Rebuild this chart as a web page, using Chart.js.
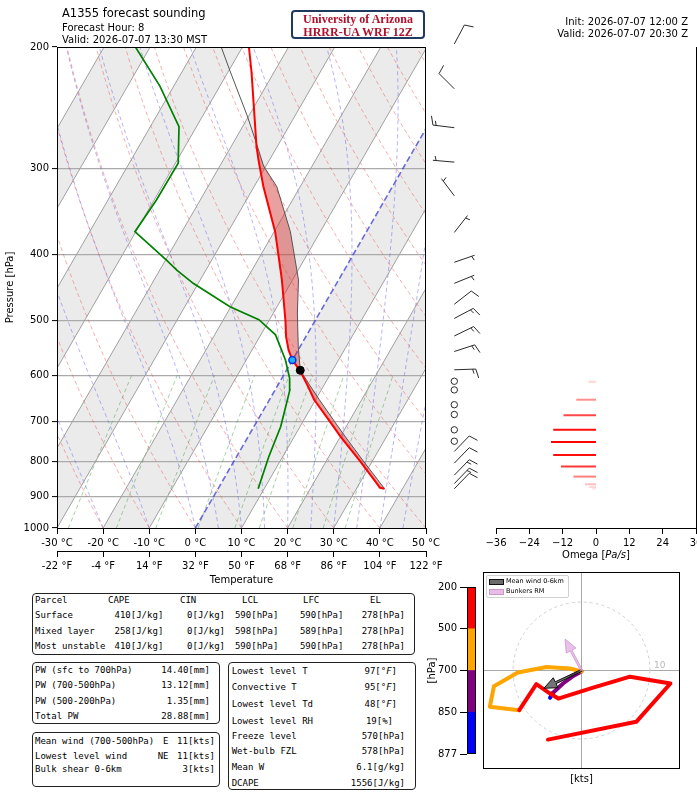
<!DOCTYPE html>
<html>
<head>
<meta charset="utf-8">
<title>A1355 forecast sounding</title>
<script src="https://cdn.jsdelivr.net/npm/chart.js@4.4.1/dist/chart.umd.min.js"></script>
<style>
  body { margin: 0; background: #fff; }
  #page { position: relative; width: 697px; height: 792px; overflow: hidden; background: #fff;
          font-family: 'DejaVu Sans', sans-serif; color: #000; }
  #page canvas { position: absolute; }
  .t { position: absolute; white-space: pre; line-height: 1; }
  .m { font-family: 'DejaVu Sans Mono', monospace; }
  .box { position: absolute; border: 1.4px solid #222; border-radius: 4px; box-sizing: border-box; }
</style>
</head>
<body>
<div id="page">
  <canvas id="skewt" width="500" height="589" style="left:0;top:0"></canvas>
  <canvas id="omega" width="240" height="576" style="left:480px;top:0"></canvas>
  <canvas id="hodo" width="267" height="232" style="left:430px;top:560px"></canvas>
  <canvas id="cbar" width="54" height="190" style="left:426px;top:575px"></canvas>
  <div style="position:absolute;left:291px;top:10px;width:134px;height:29px;box-sizing:border-box;border:2px solid #1f3a5f;border-radius:4px;
              font-family:'Liberation Serif',serif;font-weight:bold;font-size:12px;line-height:12.5px;color:#b0102a;text-align:center;padding-top:1px">University of Arizona<br>HRRR-UA WRF 12Z</div>
  <div style="position:absolute;left:486px;top:575px;width:81px;height:21px;border:1px solid #d0d0d0;border-radius:2px;background:rgba(255,255,255,0.85)"></div>
  <div style="position:absolute;left:489px;top:579px;width:13px;height:4px;background:rgba(70,70,70,0.8);border:1px solid #111"></div>
  <div style="position:absolute;left:489px;top:589px;width:13px;height:4px;background:rgba(221,160,221,0.7);border:1px solid rgba(200,140,200,0.8)"></div>
</div>
<script>
// ---- sounding profile ----
const envP = [877, 874, 850, 800, 737, 700, 651, 620, 590, 570, 551, 527, 500, 436, 400, 371, 319, 293, 279, 244, 218, 200];
const envT = [36.1, 35.0, 32.6, 27.4, 20.1, 15.8, 9.7, 6.4, 2.9, 0.0, -2.1, -4.3, -6.4, -12.3, -16.3, -19.8, -28.0, -32.2, -34.5, -40.1, -44.8, -48.6];
const dewP = [877, 788, 712, 651, 630, 606, 570, 524, 498, 477, 441, 422, 408, 371, 334, 295, 261, 228, 200];
const dewT = [8.7, 7.0, 5.8, 3.9, 3.2, 1.7, -1.5, -6.8, -12.3, -20.2, -31.1, -36.3, -39.8, -50.2, -49.5, -49.4, -53.8, -63.0, -73.2];
const parcelP = [877, 850, 800, 737, 700, 650, 620, 590, 545, 487, 436, 371, 319, 298, 278, 252, 216, 200];
const parcelT = [36.1, 33.4, 28.1, 21.1, 16.8, 10.7, 6.9, 3.0, -0.4, -4.8, -8.7, -16.5, -25.1, -30.5, -34.5, -40.3, -49.9, -54.6];
const lclP = 590, lclT = 3.0;
const frzP = 570, frzT = 0.0;
const elP = 278;

// wind barbs: pressure, direction (deg from), speed (kt)
const windP   = [198, 230, 262, 294, 329, 372, 411, 441, 473, 496, 526, 554, 589, 612, 630, 662, 684, 720, 748, 774, 805, 838, 862, 877];
const windDir = [28, 315, 277, 275, 323, 38, 71, 68, 52, 62, 64, 72, 88, 0, 0, 0, 0, 0, 0, 44, 44, 44, 44, 44];
const windSpd = [10, 10, 15, 5, 5, 5, 5, 5, 10, 15, 15, 15, 15, 0, 0, 0, 0, 0, 0, 10, 10, 15, 15, 10];

// omega (Pa/s)
const omegaP = [572, 613, 651, 686, 720, 750, 783, 814, 842, 864, 872, 877];
const omegaV = [-0.3, -2.7, -7.1, -11.7, -15.4, -16.2, -15.4, -12.6, -8.1, -4.0, -2.5, -1.5];

// hodograph (kt)
const hodoP = [877, 850, 800, 750, 700, 680, 640, 600, 570, 540, 500, 470, 440, 420, 380, 330, 290, 250, 200];
const hodoU = [-4.6, -4.2, -2.7, -1.2, 0.0, -1.7, -5.1, -9.3, -12.8, -13.4, -9.1, -6.6, -4.7, -3.4, 1.7, 7.1, 13.0, 8.0, -4.9];
const hodoV = [-4.0, -3.3, -1.9, -0.8, -0.15, 0.3, 0.5, -0.3, -2.3, -5.3, -5.8, -2.0, -3.3, -4.1, -2.5, -0.9, -1.9, -7.5, -10.1];
const layerBounds = [877, 850, 700, 500, 200];
const layerColors = ['#0000ff', '#800080', '#ffa500', '#ff0000'];
const meanWindU = -5.5, meanWindV = -2.6;
const bunkersU = -2.4, bunkersV = 4.6;

// axis ticks
const pTicks = [200, 300, 400, 500, 600, 700, 800, 900, 1000];
const tTicksC = [-30, -20, -10, 0, 10, 20, 30, 40, 50];
const tTicksF = [-22, -4, 14, 32, 50, 68, 86, 104, 122];
const omegaTicks = [-36, -24, -12, 0, 12, 24, 36];
const cbLevels = [200, 500, 700, 850, 877];

Chart.defaults.font.family = "'DejaVu Sans', sans-serif";
Chart.defaults.font.size = 10;
Chart.defaults.color = '#000';

// skew: x shift in degC per ln(1000/p), gives ~30 deg isotherms for this plot size
const K = 37.41;
const skew = (t, p) => t + K * Math.log(1000 / p);
const prof = (ps, ts) => ps.map((p, i) => ({x: skew(ts[i], p), y: p}));

// background thermodynamic lines
function dTdp(T, p) {
  const Rd = 287.04, Cp = 1005.7, Lv = 2.501e6, eps = 0.622;
  const tc = T - 273.15;
  const es = 6.112 * Math.exp(17.67 * tc / (tc + 243.5));
  const rs = eps * es / (p - es);
  return (Rd * T + Lv * rs) / (Cp + Lv * Lv * rs * eps / (Rd * T * T)) / p;
}
function moist(t0) {
  const out = [];
  let T = t0 + 273.15;
  for (let p = 1000; p >= 200; p -= 10) {
    out.push({x: skew(T - 273.15, p), y: p});
    const k1 = dTdp(T, p);
    const k2 = dTdp(T - 5 * k1, p - 5);
    T -= 10 * k2;
  }
  return out;
}
function dry(t0) {
  const out = [];
  for (let p = 1000; p >= 200; p -= 20) out.push({x: skew((t0 + 273.15) * Math.pow(p / 1000, 0.2857) - 273.15, p), y: p});
  return out;
}
function mixing(w) {
  const out = [];
  for (let p = 1000; p >= 600; p -= 50) {
    const e = w * p / (622 + w);
    const l = Math.log(e / 6.112);
    out.push({x: skew(243.5 * l / (17.67 - l), p), y: p});
  }
  return out;
}

const line = (label, data, color, width, dash) => ({
  label, data, showLine: true, borderColor: color, borderWidth: width,
  borderDash: dash || [], pointRadius: 0, fill: false, tension: 0
});

// datasets: index 0 is drawn on top
const ds = [];
ds.push({label: 'lcl', data: [{x: skew(lclT, lclP), y: lclP}], pointRadius: 4, pointBackgroundColor: '#000', pointBorderColor: '#000'});
ds.push({label: 'frz', data: [{x: skew(frzT, frzP), y: frzP}], pointRadius: 3.5, pointBorderWidth: 1.5, pointBackgroundColor: '#19b4ff', pointBorderColor: '#1030e0'});
ds.push(line('T', prof(envP, envT), '#ff0000', 2));
ds.push(line('Td', prof(dewP, dewT), '#008000', 1.7));
ds.push(line('parcel', prof(parcelP, parcelT), '#555555', 1));
ds.push(line('iso0', [{x: 0, y: 1000}, {x: skew(0, 200), y: 200}], 'rgba(60,60,210,0.75)', 1.6, [6, 3]));
for (let t = -100; t <= 50; t += 10) if (t !== 0) ds.push(line('iso', [{x: t, y: 1000}, {x: skew(t, 200), y: 200}], '#a0a0a0', 1));
for (let t = -30; t <= 150; t += 10) ds.push(line('dry', dry(t), 'rgba(235,90,90,0.55)', 0.9, [4, 3]));
[-30, -20, -10, 0, 5, 10, 15, 20, 25, 30, 35, 40, 45].forEach(t => ds.push(line('moist', moist(t), 'rgba(90,90,235,0.5)', 0.9, [4, 3])));
[0.4, 1, 2, 4, 7, 10, 16, 24, 32].forEach(w => ds.push(line('mix', mixing(w), 'rgba(60,150,60,0.5)', 0.9, [4, 3])));

function barb(ctx, x0, y0, dir, spd) {
  const L = 21.5;
  if (spd < 2.5) { ctx.beginPath(); ctx.arc(x0, y0, 3.2, 0, 2 * Math.PI); ctx.stroke(); return; }
  const r = dir * Math.PI / 180, ux = Math.sin(r), uy = -Math.cos(r);
  const px = -uy, py = ux;
  const tx = x0 + ux * L, ty = y0 + uy * L;
  ctx.beginPath(); ctx.moveTo(x0, y0); ctx.lineTo(tx, ty);
  const n = Math.round(spd / 5), full = Math.floor(n / 2), half = n % 2;
  const sp = 3.2, h = 9, lean = 2.6;
  let d = full === 0 ? sp : 0;
  for (let i = 0; i < full; i++) {
    const bx = tx - ux * d, by = ty - uy * d;
    ctx.moveTo(bx, by); ctx.lineTo(bx + px * h + ux * lean, by + py * h + uy * lean);
    d += sp;
  }
  if (half) {
    const bx = tx - ux * d, by = ty - uy * d;
    ctx.moveTo(bx, by); ctx.lineTo(bx + px * h / 2 + ux * lean / 2, by + py * h / 2 + uy * lean / 2);
  }
  ctx.stroke();
}

const skewDecor = {
  id: 'skewDecor',
  beforeDraw(chart) {
    const {ctx, chartArea: a, scales: {x, y}} = chart;
    ctx.save();
    ctx.beginPath(); ctx.rect(a.left, a.top, a.width, a.height); ctx.clip();
    ctx.fillStyle = '#ebebeb';
    for (let t0 = -100; t0 <= 40; t0 += 20) {
      const c = [[t0, 1000], [t0 + 10, 1000], [t0 + 10, 200], [t0, 200]];
      ctx.beginPath();
      c.forEach(([t, p], i) => {
        const px = x.getPixelForValue(skew(t, p)), py = y.getPixelForValue(p);
        if (i) ctx.lineTo(px, py); else ctx.moveTo(px, py);
      });
      ctx.closePath(); ctx.fill();
    }
    ctx.restore();
  },
  beforeDatasetDraw(chart, args) {
    if (chart.data.datasets[args.index].label !== 'parcel') return;
    const {ctx, chartArea: a, scales: {x, y}} = chart;
    const pts = [];
    parcelP.forEach((p, i) => { if (p >= elP) pts.push([parcelT[i], p]); });
    for (let i = envP.length - 1; i >= 0; i--) if (envP[i] >= elP) pts.push([envT[i], envP[i]]);
    ctx.save();
    ctx.beginPath(); ctx.rect(a.left, a.top, a.width, a.height); ctx.clip();
    ctx.beginPath();
    pts.forEach(([t, p], i) => {
      const px = x.getPixelForValue(skew(t, p)), py = y.getPixelForValue(p);
      if (i) ctx.lineTo(px, py); else ctx.moveTo(px, py);
    });
    ctx.closePath();
    ctx.fillStyle = 'rgba(210,45,45,0.45)';
    ctx.fill();
    ctx.restore();
  },
  afterDraw(chart) {
    const {ctx, chartArea: a, scales: {y}} = chart;
    ctx.save();
    ctx.strokeStyle = '#000'; ctx.lineWidth = 1;
    ctx.strokeRect(a.left + 0.5, a.top + 0.5, a.width - 1, a.height);
    ctx.strokeStyle = '#2a2a2a'; ctx.lineWidth = 1;
    windP.forEach((p, i) => barb(ctx, 454.3, y.getPixelForValue(p), windDir[i], windSpd[i]));
    ctx.restore();
  }
};

new Chart(document.getElementById('skewt'), {
  type: 'scatter',
  data: {datasets: ds},
  options: {
    responsive: false, animation: false, events: [],
    layout: {padding: {top: 47, right: 74, left: 4, bottom: 0}},
    plugins: {legend: {display: false}, tooltip: {enabled: false}},
    scales: {
      x: {
        type: 'linear', position: 'bottom', min: -30, max: 50,
        afterBuildTicks: ax => { ax.ticks = tTicksC.map(v => ({value: v})); },
        ticks: {callback: v => v + ' °C', maxRotation: 0, autoSkip: false, padding: 3},
        grid: {drawOnChartArea: false, tickLength: 6, tickColor: '#000'},
        border: {color: '#000'},
        afterFit: ax => { ax.height = 23; }
      },
      xf: {
        type: 'linear', position: 'bottom', min: -22, max: 122,
        afterBuildTicks: ax => { ax.ticks = tTicksF.map(v => ({value: v})); },
        ticks: {callback: v => v + ' °F', maxRotation: 0, autoSkip: false, padding: 3},
        grid: {drawOnChartArea: false, tickLength: 6, tickColor: '#000'},
        border: {color: '#000'},
        title: {display: true, text: 'Temperature', padding: {top: 0, bottom: 3}},
        afterFit: ax => { ax.height = 38; }
      },
      y: {
        type: 'logarithmic', position: 'left', min: 200, max: 1000, reverse: true,
        afterBuildTicks: ax => { ax.ticks = pTicks.map(v => ({value: v})); },
        ticks: {callback: v => String(v), autoSkip: false, padding: 3},
        grid: {color: c => (c.tick && (c.tick.value === 200 || c.tick.value === 1000)) ? 'rgba(0,0,0,0)' : '#aaaaaa',
               lineWidth: 1.2, tickLength: 5, tickColor: '#000', tickWidth: 1},
        border: {color: '#000'},
        title: {display: true, text: 'Pressure [hPa]', padding: {top: 0, bottom: 2}},
        afterFit: ax => { ax.width = 53; }
      }
    }
  },
  plugins: [skewDecor]
});

// omega panel
const omegaMax = Math.max(...omegaV.map(Math.abs));
new Chart(document.getElementById('omega'), {
  type: 'scatter',
  data: {datasets: omegaP.map((p, i) => ({
    data: [{x: 0, y: p}, {x: omegaV[i], y: p}], showLine: true, pointRadius: 0, borderWidth: 2,
    borderColor: 'rgba(255,0,0,' + Math.min(1, Math.abs(omegaV[i]) / omegaMax).toFixed(2) + ')'
  }))},
  options: {
    responsive: false, animation: false, events: [],
    layout: {padding: {left: 16, right: 24, top: 47, bottom: 0}},
    plugins: {legend: {display: false}, tooltip: {enabled: false}},
    scales: {
      x: {
        type: 'linear', min: -36, max: 36,
        afterBuildTicks: ax => { ax.ticks = omegaTicks.map(v => ({value: v})); },
        ticks: {callback: v => v < 0 ? '\u2212' + (-v) : String(v), maxRotation: 0, autoSkip: false, padding: 3},
        grid: {drawOnChartArea: false, tickLength: 6, tickColor: '#000'},
        border: {color: '#000'},
        afterFit: ax => { ax.height = 48; }
      },
      y: {
        type: 'logarithmic', position: 'right', min: 200, max: 1000, reverse: true,
        afterBuildTicks: ax => { ax.ticks = pTicks.map(v => ({value: v})); },
        ticks: {display: false},
        grid: {drawOnChartArea: false, tickLength: 5, tickColor: '#000'},
        border: {color: '#000'},
        afterFit: ax => { ax.width = 0; }
      }
    }
  }
});

// hodograph
function arrow(ctx, x0, y0, x1, y1, fill, stroke, sw, hw, hl) {
  const dx = x1 - x0, dy = y1 - y0, len = Math.hypot(dx, dy);
  const ux = dx / len, uy = dy / len, nx = -uy, ny = ux;
  const bx = x1 - ux * hl, by = y1 - uy * hl;
  ctx.beginPath();
  ctx.moveTo(x0 + nx * sw / 2, y0 + ny * sw / 2);
  ctx.lineTo(bx + nx * sw / 2, by + ny * sw / 2);
  ctx.lineTo(bx + nx * hw / 2, by + ny * hw / 2);
  ctx.lineTo(x1, y1);
  ctx.lineTo(bx - nx * hw / 2, by - ny * hw / 2);
  ctx.lineTo(bx - nx * sw / 2, by - ny * sw / 2);
  ctx.lineTo(x0 - nx * sw / 2, y0 - ny * sw / 2);
  ctx.closePath();
  ctx.fillStyle = fill; ctx.fill();
  ctx.strokeStyle = stroke; ctx.lineWidth = 1; ctx.stroke();
}
const hodoDecor = {
  id: 'hodoDecor',
  beforeDatasetsDraw(chart) {
    const {ctx, scales: {x, y}} = chart;
    const cx = x.getPixelForValue(0), cy = y.getPixelForValue(0);
    const r = x.getPixelForValue(10) - cx;
    ctx.save();
    ctx.setLineDash([3, 3]); ctx.strokeStyle = '#d0d0d0'; ctx.lineWidth = 1;
    ctx.beginPath(); ctx.arc(cx, cy, r, 0, 2 * Math.PI); ctx.stroke();
    ctx.setLineDash([]);
    ctx.fillStyle = '#b8b8b8'; ctx.font = "9px 'DejaVu Sans'"; ctx.textBaseline = 'bottom';
    ctx.fillText('10', cx + r + 4, cy - 0.5);
    ctx.restore();
  },
  afterDatasetsDraw(chart) {
    const {ctx, chartArea: a, scales: {x, y}} = chart;
    const cx = x.getPixelForValue(0), cy = y.getPixelForValue(0);
    ctx.save();
    arrow(ctx, cx, cy, x.getPixelForValue(meanWindU), y.getPixelForValue(meanWindV), 'rgba(70,70,70,0.75)', '#111', 2, 11, 13);
    arrow(ctx, cx, cy, x.getPixelForValue(bunkersU), y.getPixelForValue(bunkersV), 'rgba(221,160,221,0.65)', 'rgba(200,140,200,0.7)', 2, 11, 13);
    ctx.strokeStyle = '#000'; ctx.lineWidth = 1;
    ctx.strokeRect(a.left + 0.5, a.top + 0.5, a.width - 1, a.height - 1);
    ctx.restore();
  }
};
const hodoSets = [];
for (let k = layerColors.length - 1; k >= 0; k--) {
  const pts = [];
  hodoP.forEach((p, i) => { if (p <= layerBounds[k] && p >= layerBounds[k + 1]) pts.push({x: hodoU[i], y: hodoV[i]}); });
  hodoSets.push({data: pts, showLine: true, pointRadius: 0, borderColor: layerColors[k], borderWidth: 4,
                 borderJoinStyle: 'round', borderCapStyle: 'round'});
}
const hodoAxis = {
  type: 'linear', min: -14.4, max: 14.4,
  afterBuildTicks: ax => { ax.ticks = [{value: 0}]; },
  ticks: {display: false},
  grid: {color: '#a8a8a8', lineWidth: 1, drawTicks: false},
  border: {display: false}
};
new Chart(document.getElementById('hodo'), {
  type: 'scatter',
  data: {datasets: hodoSets},
  options: {
    responsive: false, animation: false, events: [],
    layout: {padding: {left: 53, right: 17, top: 12, bottom: 23}},
    plugins: {legend: {display: false}, tooltip: {enabled: false}},
    scales: {
      x: Object.assign({}, hodoAxis, {afterFit: ax => { ax.height = 0; }}),
      y: Object.assign({}, hodoAxis, {afterFit: ax => { ax.width = 0; }})
    }
  },
  plugins: [hodoDecor]
});

// pressure colour bar for the hodograph
new Chart(document.getElementById('cbar'), {
  type: 'bar',
  data: {labels: [''], datasets: layerColors.map(c => ({data: [1], backgroundColor: c, borderWidth: 0,
                                                         barPercentage: 1, categoryPercentage: 1}))},
  options: {
    responsive: false, animation: false, events: [],
    layout: {padding: {left: 0, right: 4, top: 12, bottom: 11}},
    plugins: {legend: {display: false}, tooltip: {enabled: false}},
    scales: {
      x: {stacked: true, display: false},
      y: {
        stacked: true, min: 0, max: 4,
        afterBuildTicks: ax => { ax.ticks = [0, 1, 2, 3, 4].map(v => ({value: v})); },
        ticks: {callback: v => String(cbLevels[4 - v]), padding: 3},
        grid: {drawOnChartArea: false, tickLength: 7, tickColor: '#000'},
        border: {display: false},
        title: {display: true, text: '[hPa]', padding: 0},
        afterFit: ax => { ax.width = 41; }
      }
    }
  },
  plugins: [{id: 'cbFrame', afterDraw(chart) {
    const {ctx, chartArea: a} = chart;
    ctx.save(); ctx.strokeStyle = '#000'; ctx.lineWidth = 1;
    ctx.strokeRect(a.left + 0.5, a.top + 0.5, a.width - 1, a.height - 1); ctx.restore();
  }}]
});

// ---- text ----
const page = document.getElementById('page');
function txt(html, x, y, size, align, mono) {
  const d = document.createElement('div');
  d.className = 't' + (mono ? ' m' : '');
  d.innerHTML = html;
  d.style.fontSize = size + 'px';
  d.style.top = (y - size / 2) + 'px';
  if (align === 'r') d.style.right = (697 - x) + 'px';
  else if (align === 'c') { d.style.left = x + 'px'; d.style.transform = 'translateX(-50%)'; }
  else d.style.left = x + 'px';
  page.appendChild(d);
}
function box(x0, y0, x1, y1) {
  const d = document.createElement('div');
  d.className = 'box';
  Object.assign(d.style, {left: x0 + 'px', top: y0 + 'px', width: (x1 - x0) + 'px', height: (y1 - y0) + 'px'});
  page.appendChild(d);
}

txt('A1355 forecast sounding', 62, 14, 11.5);
txt('Forecast Hour: 8', 62, 28, 10);
txt('Valid: 2026-07-07 13:30 MST', 62, 40, 10);
txt('Init: 2026-07-07 12:00 Z', 688, 22, 10, 'r');
txt('Valid: 2026-07-07 20:30 Z', 688, 34, 10, 'r');
txt('Omega [<i>Pa/s</i>]', 596, 555, 10, 'c');
txt('[kts]', 581.5, 779, 10, 'c');
txt('Mean wind 0-6km', 506, 581, 6.5);
txt('Bunkers RM', 506, 591, 6.5);

// parcel table
box(31.7, 593.3, 415, 655);
[['Parcel', 35], ['CAPE', 108], ['CIN', 180], ['LCL', 242], ['LFC', 303], ['EL', 370]].forEach(([s, x]) => txt(s, x, 600.7, 9, 'l', true));
[['Surface', '410', '0', '590', '590', '278', 615.7],
 ['Mixed layer', '258', '0', '598', '589', '278', 631],
 ['Most unstable', '410', '0', '590', '590', '278', 646.7]].forEach(r => {
  txt(r[0], 35, r[6], 9, 'l', true);
  txt(r[1] + '[J/kg]', 163.3, r[6], 9, 'r', true);
  txt(r[2] + '[J/kg]', 225, r[6], 9, 'r', true);
  txt(r[3] + '[hPa]', 278.3, r[6], 9, 'r', true);
  txt(r[4] + '[hPa]', 343.3, r[6], 9, 'r', true);
  txt(r[5] + '[hPa]', 405, r[6], 9, 'r', true);
});

// precipitable water
box(31.7, 661.7, 220, 724.3);
[['PW (sfc to 700hPa)', '14.40[mm]', 670], ['PW (700-500hPa)', '13.12[mm]', 685],
 ['PW (500-200hPa)', '1.35[mm]', 701.7], ['Total PW', '28.88[mm]', 716]].forEach(r => {
  txt(r[0], 35, r[2], 9, 'l', true); txt(r[1], 210, r[2], 9, 'r', true);
});

// winds
box(31.7, 731.7, 220, 786.7);
[['Mean wind (700-500hPa)', 'E', '11[kts]', 741.7], ['Lowest level wind', 'NE', '11[kts]', 756],
 ['Bulk shear 0-6km', '', '3[kts]', 769.3]].forEach(r => {
  txt(r[0], 35, r[3], 9, 'l', true); txt(r[1], 168.5, r[3], 9, 'r', true); txt(r[2], 215, r[3], 9, 'r', true);
});

// surface / misc
box(228.3, 661.7, 415.7, 790);
[['Lowest level T', '97[<i>°F</i>]', 397, 671], ['Convective T', '95[<i>°F</i>]', 397, 687.7],
 ['Lowest level Td', '48[<i>°F</i>]', 397, 704.3], ['Lowest level RH', '19[%]', 393, 721],
 ['Freeze level', '570[hPa]', 405, 736.7], ['Wet-bulb FZL', '578[hPa]', 405, 751.7],
 ['Mean W', '6.1[g/kg]', 405, 767.7], ['DCAPE', '1556[J/kg]', 405, 783.7]].forEach(r => {
  txt(r[0], 231.7, r[3], 9, 'l', true); txt(r[1], r[2], r[3], 9, 'r', true);
});
</script>
</body>
</html>
